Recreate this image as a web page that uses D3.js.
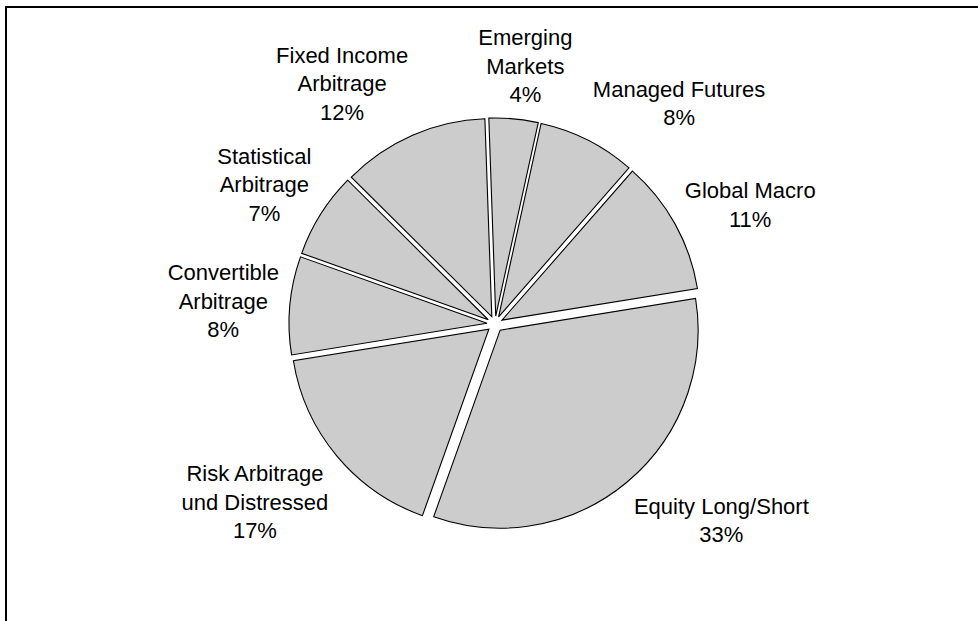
<!DOCTYPE html>
<html>
<head>
<meta charset="utf-8">
<script src="https://cdn.jsdelivr.net/npm/d3@7"></script>
<style>
  body { margin: 0; background: #fff; }
  text { font-family: "Liberation Sans", Arial, sans-serif; font-size: 22px; fill: #000; }
</style>
</head>
<body>
<script>
// slices, clockwise from the top
let categories = ["Emerging Markets", "Managed Futures", "Global Macro", "Equity Long/Short",
    "Risk Arbitrage und Distressed", "Convertible Arbitrage", "Statistical Arbitrage", "Fixed Income Arbitrage"];
let labelLines = [["Emerging", "Markets"], ["Managed Futures"], ["Global Macro"], ["Equity Long/Short"],
    ["Risk Arbitrage", "und Distressed"], ["Convertible", "Arbitrage"], ["Statistical", "Arbitrage"], ["Fixed Income", "Arbitrage"]];
let values = [4, 8, 11, 33, 17, 8, 7, 12];

let width = 978, height = 621;
let cx = 495, cy = 324, radius = 198, explode = 8;
let labelR = 217, lineH = 28.5;
let startDeg = -2;

let svg = d3.select("body").append("svg")
    .attr("width", width)
    .attr("height", height);

// chart frame (right and bottom edges fall outside the window)
svg.append("rect")
    .attr("x", 6).attr("y", 7)
    .attr("width", 1200).attr("height", 1200)
    .attr("fill", "none")
    .attr("stroke", "#000")
    .attr("stroke-width", 2);

let total = d3.sum(values);
let pct = d3.format(".0%");

let pie = d3.pie().sort(null).value(d => d)
    .startAngle(startDeg * Math.PI / 180)
    .endAngle(2 * Math.PI + startDeg * Math.PI / 180);
let arcs = pie(values);

let arc = d3.arc().innerRadius(0).outerRadius(radius);

let g = svg.append("g").attr("transform", `translate(${cx},${cy})`);

g.selectAll("path.slice").data(arcs).enter().append("path")
    .attr("class", "slice")
    .attr("d", arc)
    .attr("transform", d => {
        let a = (d.startAngle + d.endAngle) / 2;
        return `translate(${explode * Math.sin(a)},${-explode * Math.cos(a)})`;
    })
    .attr("fill", "#cccccc")
    .attr("stroke", "#000")
    .attr("stroke-width", 1.1)
    .attr("stroke-linejoin", "miter");

// labels: box hangs off a point just outside the pie, along the slice's mid angle
let clamp = v => Math.max(-1, Math.min(1, v));
arcs.forEach((d, i) => {
    let a = (d.startAngle + d.endAngle) / 2;
    let s = Math.sin(a), c = Math.cos(a);
    let lines = labelLines[i].concat([pct(values[i] / total)]);
    let t = g.append("text").attr("text-anchor", "middle");
    lines.forEach(l => t.append("tspan").text(l));
    let w = d3.max(t.selectAll("tspan").nodes(), n => n.getComputedTextLength());
    let h = lines.length * lineH;
    let px = labelR * s, py = -labelR * c;
    let fx = 0.5 - 0.5 * clamp(2.5 * s);
    let ky = c > 0 ? 1.1 : 1.4;
    let fy = 0.5 + 0.5 * clamp(ky * c);
    let left = px - fx * w, top = py - fy * h;
    t.selectAll("tspan")
        .attr("x", left + w / 2)
        .attr("y", (l, j) => top + j * lineH + 23);
});
</script>
</body>
</html>
